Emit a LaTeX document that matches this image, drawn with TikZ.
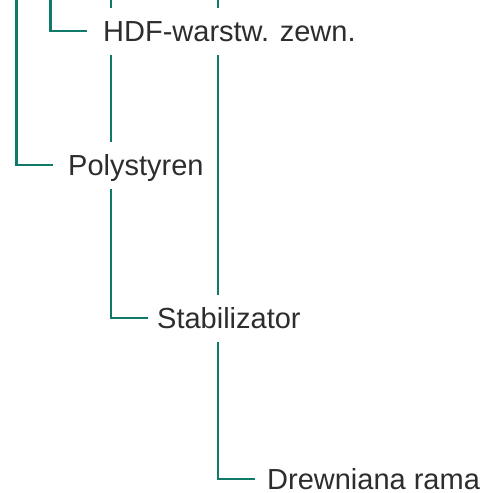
\documentclass[tikz,border=0pt]{standalone}
\usepackage{fontspec}
\setmainfont{Liberation Sans}
\usetikzlibrary{backgrounds}
\definecolor{linkteal}{RGB}{16,122,106}
\definecolor{labelgray}{RGB}{45,45,45}
\tikzset{
  leaf/.style={anchor=west, fill=white, text=labelgray, font=\fontsize{29}{32}\selectfont,
    inner xsep=2pt, inner ysep=0pt, text height=21pt, text depth=0pt, minimum height=47pt},
  link/.style={draw=linkteal, line width=2.8pt}
}
\begin{document}
\begin{tikzpicture}[x=1pt,y=-1pt]
\useasboundingbox (0,0) rectangle (487,493);
\node[leaf] (hdf) at (101,31) {HDF-warstw. zewn.};
\node[leaf] (poly) at (66,165) {Polystyren};
\node[leaf] (stab) at (155,318) {Stabilizator};
\node[leaf, minimum height=0pt] (drew) at (265,479) {Drewniana rama};
\coordinate (t1) at (16.5,-6);
\coordinate (t2) at (50.5,-6);
\coordinate (t3) at (111,-6);
\coordinate (t4) at (218,-6);
\begin{scope}[on background layer]
\draw[link] (t1) |- ([xshift=-13pt]poly.west);
\draw[link] (t2) |- ([xshift=-14pt]hdf.west);
\draw[link] (t3) |- ([xshift=-7pt]stab.west);
\draw[link] (t4) |- ([xshift=-10pt]drew.west);
\end{scope}
\end{tikzpicture}
\end{document}
